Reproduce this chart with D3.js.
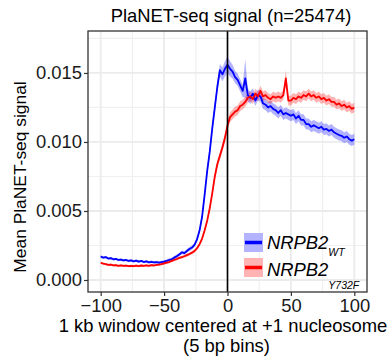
<!DOCTYPE html>
<html>
<head>
<meta charset="utf-8">
<script src="https://cdn.jsdelivr.net/npm/d3@7"></script>
<style>
  body { margin: 0; background: #fff; }
  svg { font-family: "Liberation Sans", Arial, sans-serif; }
</style>
</head>
<body>
<div id="chart"></div>
<script>
// bins of 5 bp, every second bin
const bins = d3.range(-100, 101, 2);

// mean signal, in units of 1e-3
const wtMean = [
  1.70, 1.62, 1.66, 1.55, 1.58, 1.50, 1.53, 1.45, 1.48, 1.42,
  1.45, 1.38, 1.42, 1.35, 1.40, 1.33, 1.38, 1.30, 1.35, 1.28,
  1.32, 1.27, 1.30, 1.25, 1.30, 1.33, 1.38, 1.45, 1.50, 1.62,
  1.72, 1.85, 2.00, 1.95, 2.10, 2.25, 2.35, 2.55, 2.95, 3.60,
  4.60, 6.20, 7.90, 9.30, 11.0, 12.5, 14.0, 15.2, 14.9, 15.3,
  15.6, 15.3, 15.1, 14.7, 14.5, 14.1, 13.7, 14.6, 13.4, 13.2,
  13.5, 13.0, 13.4, 13.3, 12.8, 12.7, 12.5, 12.6, 12.4, 12.3,
  12.1, 12.3, 12.0, 12.1, 12.0, 11.9, 12.0, 11.7, 11.9, 11.6,
  11.6, 11.3, 11.3, 11.1, 11.2, 11.1, 11.0, 11.1, 10.9, 10.95,
  10.8, 10.9, 10.7, 10.6, 10.5, 10.45, 10.3, 10.4, 10.2, 10.1,
  10.2
];
const mutMean = [
  1.25, 1.18, 1.15, 1.10, 1.12, 1.06, 1.08, 1.03, 1.06, 1.02,
  1.04, 1.00, 1.03, 1.00, 1.04, 1.01, 1.05, 1.02, 1.06, 1.03,
  1.07, 1.05, 1.10, 1.12, 1.15, 1.20, 1.25, 1.30, 1.38, 1.45,
  1.52, 1.60, 1.65, 1.72, 1.80, 1.88, 1.98, 2.10, 2.30, 2.60,
  3.00, 3.60, 4.30, 5.20, 6.30, 7.50, 8.40, 9.00, 9.60, 10.3,
  11.2, 11.8, 12.0, 12.2, 12.3, 12.6, 12.7, 12.9, 13.2, 13.3,
  13.1, 13.5, 13.3, 13.7, 13.3, 13.4, 13.2, 13.1, 13.3, 13.2,
  13.3, 13.2, 13.4, 14.6, 13.0, 13.0, 13.2, 13.1, 13.3, 13.2,
  13.4, 13.3, 13.5, 13.3, 13.4, 13.2, 13.3, 13.1, 13.2, 13.0,
  13.1, 12.9, 12.9, 12.7, 12.8, 12.6, 12.7, 12.5, 12.6, 12.4,
  12.5
];

// half width of the shaded band, in units of 1e-3
const wtSE = [
  0.09, 0.09, 0.09, 0.09, 0.09, 0.09, 0.09, 0.09, 0.09, 0.09,
  0.09, 0.09, 0.09, 0.09, 0.09, 0.09, 0.09, 0.09, 0.09, 0.09,
  0.09, 0.09, 0.09, 0.09, 0.09, 0.10, 0.10, 0.10, 0.11, 0.11,
  0.12, 0.12, 0.13, 0.13, 0.14, 0.14, 0.15, 0.15, 0.16, 0.18,
  0.20, 0.22, 0.25, 0.28, 0.32, 0.36, 0.40, 0.45, 0.50, 0.55,
  0.60, 0.55, 0.50, 0.45, 0.45, 0.45, 0.45, 1.40, 0.45, 0.45,
  0.40, 0.40, 0.40, 0.40, 0.40, 0.40, 0.40, 0.40, 0.40, 0.40,
  0.40, 0.40, 0.40, 0.40, 0.40, 0.40, 0.40, 0.40, 0.40, 0.40,
  0.40, 0.40, 0.40, 0.40, 0.40, 0.40, 0.40, 0.40, 0.40, 0.40,
  0.40, 0.40, 0.40, 0.40, 0.40, 0.40, 0.40, 0.40, 0.40, 0.40,
  0.40
];
const mutSE = [
  0.08, 0.08, 0.08, 0.08, 0.08, 0.08, 0.08, 0.08, 0.08, 0.08,
  0.08, 0.08, 0.08, 0.08, 0.08, 0.08, 0.08, 0.08, 0.08, 0.08,
  0.08, 0.08, 0.08, 0.08, 0.08, 0.09, 0.09, 0.09, 0.10, 0.10,
  0.10, 0.10, 0.11, 0.11, 0.11, 0.12, 0.12, 0.12, 0.13, 0.14,
  0.15, 0.16, 0.18, 0.20, 0.22, 0.25, 0.28, 0.30, 0.30, 0.32,
  0.34, 0.35, 0.35, 0.35, 0.35, 0.35, 0.35, 0.35, 0.35, 0.35,
  0.35, 0.35, 0.35, 0.35, 0.35, 0.35, 0.35, 0.35, 0.35, 0.35,
  0.35, 0.35, 0.35, 0.60, 0.35, 0.35, 0.35, 0.35, 0.35, 0.35,
  0.35, 0.35, 0.35, 0.35, 0.35, 0.35, 0.35, 0.35, 0.35, 0.35,
  0.35, 0.35, 0.35, 0.35, 0.35, 0.35, 0.35, 0.35, 0.35, 0.35,
  0.35
];

const xTicks = [-100, -50, 0, 50, 100];
const xMinor = [-75, -25, 25, 75];
const yTicks = [0, 0.005, 0.010, 0.015];
const yMinor = [0.0025, 0.0075, 0.0125, 0.0175];

const series = [
  { name: 'WT', mean: wtMean, se: wtSE, color: '#0000ff', band: '#b3b3ff' },
  { name: 'Y732F', mean: mutMean, se: mutSE, color: '#ff0000', band: '#ffb3b3' },
];

function buildPoints(s) {
  return bins.map((b, i) => ({
    x: b,
    y: s.mean[i] / 1000,
    lo: (s.mean[i] - s.se[i]) / 1000,
    hi: (s.mean[i] + s.se[i]) / 1000,
  }));
}

const width = 392;
const height = 359;
const panel = { left: 88, right: 367, top: 31, bottom: 292 };

const svg = d3.select('#chart')
  .append('svg')
  .attr('width', width)
  .attr('height', height);

const xScale = d3.scaleLinear().domain([-110, 110]).range([panel.left, panel.right]);
const yScale = d3.scaleLinear().domain([-0.00087, 0.01804]).range([panel.bottom, panel.top]);

// grid: minor first, then major
const grid = svg.append('g').attr('class', 'grid');
grid.append('g').selectAll('line').data(xMinor).join('line')
  .attr('x1', d => xScale(d)).attr('x2', d => xScale(d))
  .attr('y1', panel.top).attr('y2', panel.bottom)
  .attr('stroke', '#f0f0f0').attr('stroke-width', 1.2);
grid.append('g').selectAll('line').data(yMinor).join('line')
  .attr('y1', d => yScale(d)).attr('y2', d => yScale(d))
  .attr('x1', panel.left).attr('x2', panel.right)
  .attr('stroke', '#f0f0f0').attr('stroke-width', 1.2);
grid.append('g').selectAll('line').data(xTicks).join('line')
  .attr('x1', d => xScale(d)).attr('x2', d => xScale(d))
  .attr('y1', panel.top).attr('y2', panel.bottom)
  .attr('stroke', '#ebebeb').attr('stroke-width', 1.8);
grid.append('g').selectAll('line').data(yTicks).join('line')
  .attr('y1', d => yScale(d)).attr('y2', d => yScale(d))
  .attr('x1', panel.left).attr('x2', panel.right)
  .attr('stroke', '#ebebeb').attr('stroke-width', 1.8);

// ribbons, then mean lines
const area = d3.area()
  .x(d => xScale(d.x))
  .y0(d => yScale(d.lo))
  .y1(d => yScale(d.hi));
const line = d3.line()
  .x(d => xScale(d.x))
  .y(d => yScale(d.y));

svg.append('g').selectAll('path').data(series).join('path')
  .attr('d', s => area(buildPoints(s)))
  .attr('fill', s => s.color)
  .attr('fill-opacity', 0.3);

svg.append('g').selectAll('path').data(series).join('path')
  .attr('d', s => line(buildPoints(s)))
  .attr('fill', 'none')
  .attr('stroke', s => s.color)
  .attr('stroke-width', 1.8)
  .attr('stroke-linejoin', 'round');

// vertical line at the +1 nucleosome
svg.append('line')
  .attr('x1', xScale(0)).attr('x2', xScale(0))
  .attr('y1', panel.top).attr('y2', panel.bottom)
  .attr('stroke', '#000').attr('stroke-width', 1.6);

// panel border
svg.append('rect')
  .attr('x', panel.left).attr('y', panel.top)
  .attr('width', panel.right - panel.left)
  .attr('height', panel.bottom - panel.top)
  .attr('fill', 'none')
  .attr('stroke', '#333').attr('stroke-width', 1.3);

// axes
const xAxis = d3.axisBottom(xScale).tickValues(xTicks).tickSize(4).tickPadding(3)
  .tickFormat(d => d < 0 ? '\u2212' + Math.abs(d) : d);
const yAxis = d3.axisLeft(yScale).tickValues(yTicks).tickSize(4).tickPadding(2)
  .tickFormat(d3.format('.3f'));

const gx = svg.append('g').attr('transform', `translate(0,${panel.bottom})`).call(xAxis);
const gy = svg.append('g').attr('transform', `translate(${panel.left},0)`).call(yAxis);
[gx, gy].forEach(g => {
  g.select('.domain').remove();
  g.selectAll('.tick line').attr('stroke', '#333').attr('stroke-width', 1.2);
  g.selectAll('.tick text').attr('fill', '#1a1a1a').style('font-size', '18.4px');
});

// titles
svg.append('text')
  .attr('x', 231).attr('y', 22)
  .attr('text-anchor', 'middle')
  .style('font-size', '18.4px')
  .text('PlaNET-seq signal (n=25474)');

svg.append('text')
  .attr('transform', 'translate(26,177) rotate(-90)')
  .attr('text-anchor', 'middle')
  .style('font-size', '17.4px')
  .text('Mean PlaNET-seq signal');

svg.append('text')
  .attr('x', 223).attr('y', 332)
  .attr('text-anchor', 'middle')
  .style('font-size', '18.4px')
  .text('1 kb window centered at +1 nucleosome');
svg.append('text')
  .attr('x', 226.5).attr('y', 352)
  .attr('text-anchor', 'middle')
  .style('font-size', '18.4px')
  .text('(5 bp bins)');

// legend
const legendTop = [233, 258];
const subDrop = [7, 13];
const legend = svg.append('g').selectAll('g').data(series).join('g')
  .attr('transform', (d, i) => `translate(244,${legendTop[i]})`);
legend.append('rect')
  .attr('width', 19).attr('height', 19)
  .attr('fill', d => d.band);
legend.append('line')
  .attr('x1', 1).attr('x2', 18)
  .attr('y1', 9.5).attr('y2', 9.5)
  .attr('stroke', d => d.color).attr('stroke-width', 3.5);
const label = legend.append('text')
  .attr('x', 23).attr('y', (d, i) => i === 0 ? 16 : 18)
  .style('font-style', 'italic')
  .style('font-size', '18.4px');
label.append('tspan').text('NRPB2');
label.append('tspan')
  .attr('dy', (d, i) => subDrop[i])
  .style('font-size', '10.5px')
  .text(d => d.name);
</script>
</body>
</html>
